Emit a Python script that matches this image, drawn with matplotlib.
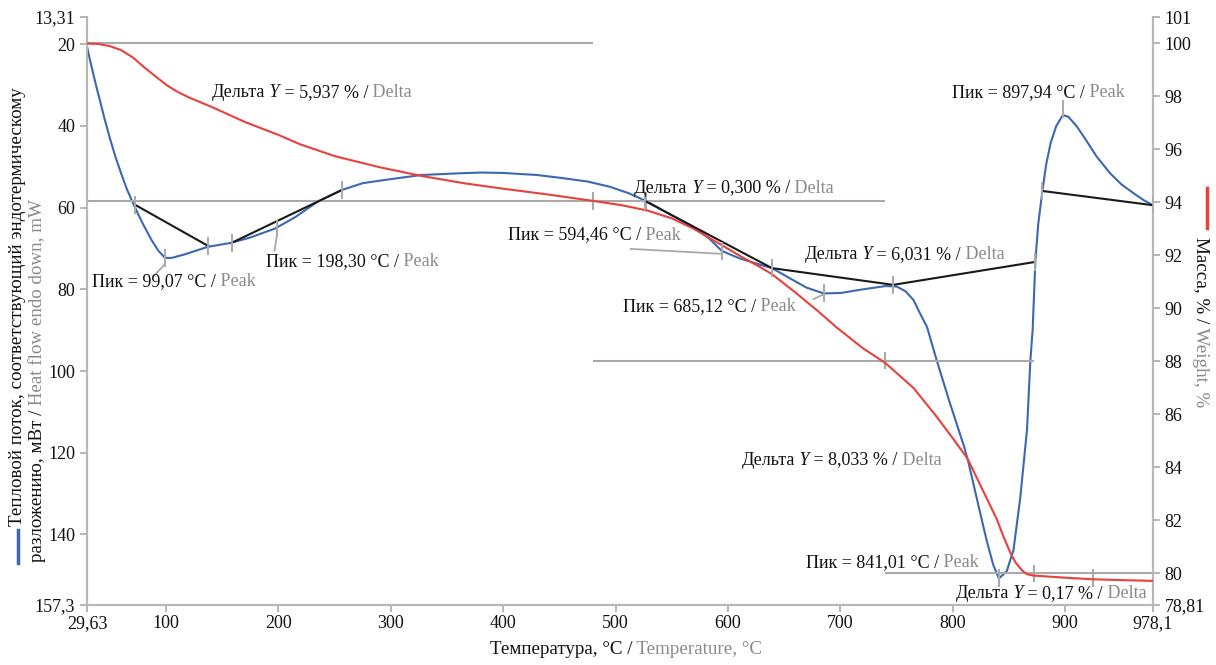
import numpy as np
import matplotlib
matplotlib.use('Agg')
import matplotlib.pyplot as plt
from matplotlib.lines import Line2D

plt.rcParams['font.family'] = ['Liberation Serif', 'DejaVu Serif']
plt.rcParams['font.size'] = 13

# ДСК: температура, °C и тепловой поток, мВт
temp_dsc = [29.63, 32, 35, 38, 41, 45, 50, 55, 60, 65, 70.6, 75, 80, 87, 93,
            99.07, 105, 117, 137, 158, 175, 197, 215, 235, 256, 275, 295, 327,
            360, 380, 400, 430, 451, 475, 495, 512, 528, 550, 569, 583, 594.46,
            610, 629, 639, 655, 670, 685.12, 700, 720, 740, 750, 758, 765, 771,
            777, 786, 797, 810, 814, 822, 830, 836, 841.01, 848, 854, 860, 866,
            869, 871, 873.5, 876, 879.4, 883, 887, 892, 897.94, 903, 910, 916.5,
            928, 940, 950, 961, 970, 978.1]
heat_flow = [20.5, 23.5, 27.0, 30.4, 33.6, 38.0, 43.0, 47.6, 51.6, 55.4, 58.9,
             61.5, 64.3, 67.9, 70.5, 72.3, 72.3, 71.4, 69.6, 68.6, 67.3, 65.1,
             62.3, 58.5, 55.7, 54.0, 53.2, 52.0, 51.6, 51.4, 51.5, 52.0, 52.7,
             53.6, 54.9, 56.5, 58.5, 61.9, 64.7, 67.5, 70.6, 72.4, 74.0, 74.8,
             77.3, 79.6, 81.0, 80.9, 80.0, 79.2, 79.3, 80.5, 82.6, 86.0, 89.2,
             97.7, 107.5, 118.5, 122.5, 132.0, 141.4, 147.5, 150.8, 149.0,
             143.8, 131.0, 114.4, 97.3, 90.0, 72.8, 64.0, 56.5, 49.5, 44.2,
             40.0, 37.3, 37.8, 40.0, 42.6, 47.5, 51.6, 54.3, 56.5, 58.2, 59.4]

# ТГ: масса, %
temp_tg = [29.63, 40, 50, 60, 70.6, 80, 90, 100.8, 110, 120, 142, 170, 200,
           219, 250, 290, 327.5, 366, 400, 440, 480, 505, 528, 550, 569, 590,
           610, 629, 639, 660, 680, 697, 720, 740, 765, 785, 800, 813, 826, 839,
           845, 851, 856, 862, 866, 872, 900, 925, 950, 978.1]
mass = [100.0, 99.98, 99.9, 99.75, 99.47, 99.12, 98.78, 98.42, 98.18, 97.97,
        97.58, 97.04, 96.55, 96.2, 95.75, 95.33, 95.0, 94.72, 94.52, 94.3,
        94.06, 93.9, 93.7, 93.4, 93.02, 92.5, 92.0, 91.55, 91.3, 90.6, 89.9,
        89.27, 88.5, 87.94, 87.0, 85.95, 85.1, 84.34, 83.2, 82.06, 81.4, 80.8,
        80.4, 80.1, 79.97, 79.92, 79.84, 79.78, 79.75, 79.72]

# базовые линии интегрирования пиков
base_t = [[72.4, 137.6], [158.4, 256.3], [526.4, 639, 747, 873], [879.4, 978.1]]
base_v = [[59.3, 69.4], [68.6, 55.7], [58.4, 74.8, 78.9, 73.3], [55.9, 59.4]]

# пики ДСК
peak_t = [99.07, 198.30, 594.46, 685.12, 841.01, 897.94]
peak_v = [72.3, 65.1, 70.6, 81.0, 150.8, 37.3]
peak_lbl_t = [34.1, 189, 404.4, 506.8, 669.6, 799.6]
peak_lbl_v = [78.2, 73.3, 66.7, 84.3, 147.0, 31.7]

# ступени потери массы
delta_vals = [5.937, 0.300, 6.031, 8.033, 0.17]
delta_txt = ['5,937', '0,300', '6,031', '8,033', '0,17']
delta_lbl_t = [140.9, 516.5, 667.9, 611.8, 802.3]
delta_lbl_v = [31.9, 55.2, 71.4, 121.8, 154.6]
level_start = [29.63, 29.63, 480, 740]
level_end = [480, 740, 872, 978.1]
level_mass = [100.0, 100 - 5.937, 100 - 5.937 - 6.031, 100 - 5.937 - 6.031 - 8.033]
mass_tick_t = [480, 527, 740, 872, 925]
mass_tick_m = [level_mass[1], level_mass[1], level_mass[2], level_mass[3],
               level_mass[3] - 0.17]

x_ticks = [29.63, 100, 200, 300, 400, 500, 600, 700, 800, 900, 978.1]
y_ticks = [13.31, 20, 40, 60, 80, 100, 120, 140, 157.3]
m_ticks = [78.81, 80, 82, 84, 86, 88, 90, 92, 94, 96, 98, 100, 101]

BLUE = '#3d67b1'
RED = '#e8413c'
GREY = '#a9a9a9'
GREY_TXT = '#8a8a8a'
DARK = '#111111'


def comma(v):
    s = ('%.2f' % v) if v != int(v) else '%d' % v
    if v in (157.3, 978.1):
        s = '%.1f' % v
    return s.replace('.', ',')


fig = plt.figure(figsize=(12.16, 6.65), dpi=100)
ax = fig.add_axes([87 / 1216, 1 - 605 / 665, 1066 / 1216, 588 / 665])
ax2 = ax.twinx()

ax.set_xlim(29.63, 978.1)
ax.set_ylim(157.3, 13.31)
ax2.set_ylim(78.81, 101)

for a in (ax, ax2):
    for s in a.spines.values():
        s.set_color('#b8b8b8')
        s.set_linewidth(1.5)
    a.spines['top'].set_visible(False)
    a.tick_params(colors=GREY, labelcolor=DARK, length=5, width=1.2,
                  labelsize=13)

ax.set_xticks(x_ticks)
ax.set_xticklabels([comma(v) for v in x_ticks])
ax.set_yticks(y_ticks)
ax.set_yticklabels([comma(v) for v in y_ticks])
ax2.set_yticks(m_ticks)
ax2.set_yticklabels([comma(v) for v in m_ticks])
ax.tick_params(axis='x', pad=2)

# горизонтальные уровни массы
ax2.hlines(level_mass, level_start, level_end, color=GREY, lw=1.5, zorder=1)
ax2.vlines(mass_tick_t, np.array(mass_tick_m) - 0.33, np.array(mass_tick_m) + 0.33,
           color=GREY, lw=1.5, zorder=1)

# кривые
ax.plot(temp_dsc, heat_flow, color=BLUE, lw=1.5, zorder=3)
ax2.plot(temp_tg, mass, color=RED, lw=1.5, zorder=3)
for bt, bv in zip(base_t, base_v):
    ax2.plot(bt, bv, color='#1a1a1a', lw=1.5, zorder=4, transform=ax.transData)

# засечки на базовых линиях и пиках
tick_t = [t for bt in base_t for t in bt] + peak_t
tick_v = [v for bv in base_v for v in bv] + peak_v
tick_t = np.array(tick_t)
tick_v = np.array(tick_v)
tick_v[tick_t == 897.94] -= 1.5
ax2.vlines(tick_t, tick_v - 2.2, tick_v + 2.2, color=GREY, lw=1.4, zorder=5,
           transform=ax.transData)

# выноски подписей пиков
leaders = [([99.07, 89.2], [73.8, 76.7]),
           ([198.3, 196.5], [67.3, 70.5]),
           ([513.5, 594.46], [70.1, 71.3]),
           ([676.0, 685.12], [82.4, 81.2])]
for lt, lv in leaders:
    ax2.plot(lt, lv, color=GREY, lw=1.3, zorder=5, transform=ax.transData)


def chain(owner, x, y, parts, transform, rotation=0, ha='left', va='center',
          size=13):
    # составная подпись из кусков разного цвета и начертания
    txt, col, sty = parts[0]
    prev = owner.text(x, y, txt, color=col, style=sty, transform=transform,
                      rotation=rotation, ha=ha, va=va, zorder=6, fontsize=size)
    for txt, col, sty in parts[1:]:
        if rotation == 0:
            kw = dict(xy=(1, 0), ha='left', va='bottom')
        elif rotation == 90:
            kw = dict(xy=(0, 1), ha='left', va='bottom')
        else:
            kw = dict(xy=(0, 0), ha='left', va='top')
        prev = ax2.annotate(txt, xycoords=prev, color=col, style=sty,
                            rotation=rotation, annotation_clip=False,
                            zorder=6, fontsize=size, **kw)
    return prev


for t, lt, lv in zip(peak_t, peak_lbl_t, peak_lbl_v):
    s = ('%.2f' % t).replace('.', ',')
    chain(ax2, lt, lv, [('Пик = %s °C /' % s, DARK, 'normal'),
                        (' Peak', GREY_TXT, 'normal')], ax.transData)

for s, lt, lv in zip(delta_txt, delta_lbl_t, delta_lbl_v):
    chain(ax2, lt, lv, [('Дельта', DARK, 'normal'),
                        (' Y', DARK, 'italic'),
                        (' = %s %% /' % s, DARK, 'normal'),
                        (' Delta', GREY_TXT, 'normal')], ax.transData)

# подписи осей
ff = fig.transFigure
chain(fig, 490 / 1216, 1 - 650 / 665,
      [('Температура, °C /', DARK, 'normal'),
       (' Temperature, °C', GREY_TXT, 'normal')], ff, size=13.7)

fig.text(18 / 1216, 1 - 526 / 665,
         'Тепловой поток, соответствующий эндотермическому',
         rotation=90, ha='center', va='bottom', color=DARK, fontsize=13.7)
chain(fig, 38 / 1216, 1 - 562 / 665,
      [('разложению, мВт /', DARK, 'normal'),
       (' Heat flow endo down, mW', GREY_TXT, 'normal')], ff,
      rotation=90, ha='center', va='bottom', size=13.7)
fig.add_artist(Line2D([18 / 1216, 18 / 1216], [1 - 563 / 665, 1 - 530 / 665],
                      color=BLUE, lw=2.5, transform=ff))

chain(fig, 1201 / 1216, 1 - 237 / 665,
      [('Масса, % /', DARK, 'normal'),
       (' Weight, %', GREY_TXT, 'normal')], ff,
      rotation=270, ha='center', va='top', size=13.7)
fig.add_artist(Line2D([1207 / 1216, 1207 / 1216], [1 - 228 / 665, 1 - 188 / 665],
                      color=RED, lw=2.5, transform=ff))

fig.savefig('out.png', dpi=100)
